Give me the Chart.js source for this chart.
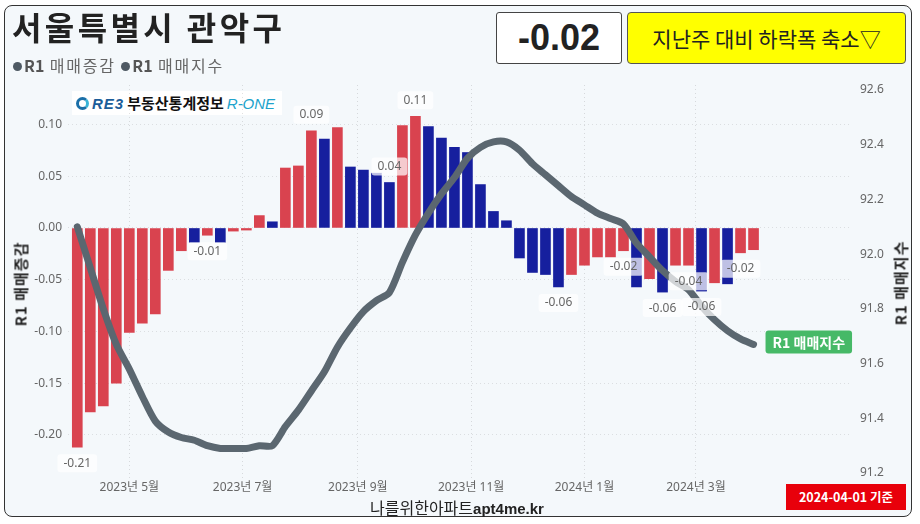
<!DOCTYPE html>
<html>
<head>
<meta charset="utf-8">
<script src="https://cdn.jsdelivr.net/npm/chart.js@4.4.1/dist/chart.umd.min.js"></script>
<style>
body{margin:0;width:920px;height:524px;background:#fff;position:relative;overflow:hidden;font-family:'Noto Sans','Noto Sans CJK KR',sans-serif;}
#frame{position:absolute;left:4px;top:5px;width:906px;height:510px;border:1.5px solid #333;border-radius:8px;background:#f4f8fb;}
#c{position:absolute;left:0;top:0;}
.abs{position:absolute;white-space:nowrap;}
#title{left:12px;top:3px;font-size:32px;font-weight:700;color:#222;font-family:'Noto Sans CJK KR',sans-serif;letter-spacing:3.4px;}
#legend{left:13px;top:53px;font-size:16px;color:#666;font-family:'Noto Sans CJK KR',sans-serif;letter-spacing:1.8px;}
#legend b{color:#555;letter-spacing:0;}
#legend .dot{display:inline-block;width:9px;height:9px;border-radius:50%;background:#4e5963;margin-right:2px;vertical-align:1px;}
#valbox{left:496px;top:12px;width:124px;height:50px;background:#fff;border:1px solid #444;border-radius:3px;text-align:center;line-height:50px;font-size:36px;font-weight:700;color:#222;font-family:'Liberation Sans',Arial,sans-serif;}
#yellow{left:627px;top:12px;width:277px;height:50px;background:#ffff00;border:1px solid #555;border-radius:4px;text-align:center;line-height:50px;font-size:21px;color:#222;font-family:'Noto Sans CJK KR',sans-serif;}
#logo{left:72px;top:91px;width:210px;height:24px;background:#fff;font-size:15px;line-height:24px;font-family:'Noto Sans CJK KR',sans-serif;}
#logo .ic{display:inline-block;width:13px;height:13px;border-radius:50%;border:3px solid #1b6fa8;border-right-color:#38b4d8;box-sizing:border-box;margin:0 3px 0 4px;vertical-align:-1px;}
#logo .re{color:#1b5d99;font-style:italic;font-weight:700;font-family:'Liberation Sans',sans-serif;letter-spacing:1px;}
#logo .ko{color:#111;font-weight:700;margin:0 3px;}
#logo .one{color:#21a3cc;font-style:italic;font-family:'Liberation Sans',sans-serif;}
.ytitle{font-size:15px;font-weight:700;color:#222;font-family:'Noto Sans CJK KR',sans-serif;letter-spacing:1px;transform:translate(-50%,-50%) rotate(-90deg);}
#footer{left:370px;top:495px;font-size:16px;color:#222;font-family:'Noto Sans CJK KR',sans-serif;}
#footer b{font-family:'Liberation Sans Narrow','Liberation Sans',sans-serif;font-size:15px;}
#badge{left:786px;top:484px;width:120px;height:26px;background:#e8000b;color:#fff;font-size:12.5px;font-weight:700;text-align:center;line-height:26px;font-family:'Noto Sans CJK KR',sans-serif;}
</style>
</head>
<body>
<div id="frame"></div>
<div id="logo" class="abs"><span class="ic"></span><span class="re">RE3</span><span class="ko">부동산통계정보</span><span class="one">R-ONE</span></div>
<canvas id="c" width="920" height="524"></canvas>
<div id="title" class="abs">서울특별시 관악구</div>
<div id="legend" class="abs"><span class="dot"></span><b>R1</b> 매매증감 <span class="dot"></span><b>R1</b> 매매지수</div>
<div id="valbox" class="abs"></div>
<div id="yellow" class="abs">지난주 대비 하락폭 축소▽</div>
<div class="abs ytitle" style="left:20px;top:284px;">R1 매매증감</div>
<div class="abs ytitle" style="left:900px;top:283px;">R1 매매지수</div>
<div id="footer" class="abs">나를위한아파트<b>apt4me.kr</b></div>
<div id="badge" class="abs">2024-04-01 기준</div>
<script>
const weeks = [
  '2023-04-03','2023-04-10','2023-04-17','2023-04-24','2023-05-01','2023-05-08','2023-05-15','2023-05-22','2023-05-29',
  '2023-06-05','2023-06-12','2023-06-19','2023-06-26','2023-07-03','2023-07-10','2023-07-17','2023-07-24','2023-07-31',
  '2023-08-07','2023-08-14','2023-08-21','2023-08-28','2023-09-04','2023-09-11','2023-09-18','2023-09-25',
  '2023-10-02','2023-10-09','2023-10-16','2023-10-23','2023-10-30','2023-11-06','2023-11-13','2023-11-20','2023-11-27',
  '2023-12-04','2023-12-11','2023-12-18','2023-12-25','2024-01-01','2024-01-08','2024-01-15','2024-01-22','2024-01-29',
  '2024-02-05','2024-02-12','2024-02-19','2024-02-26','2024-03-04','2024-03-11','2024-03-18','2024-03-25','2024-04-01'
];
// R1 매매증감 (weekly change)
const changeValues = [
  -0.212,-0.178,-0.172,-0.150,-0.101,-0.092,-0.083,-0.041,-0.022,
  -0.014,-0.007,-0.014,-0.003,-0.002,0.012,0.006,0.058,0.060,
  0.094,0.086,0.097,0.059,0.056,0.053,0.044,0.099,
  0.108,0.098,0.087,0.078,0.073,0.042,0.016,0.007,-0.029,
  -0.043,-0.045,-0.057,-0.045,-0.036,-0.028,-0.028,-0.022,-0.057,
  -0.049,-0.062,-0.036,-0.036,-0.061,-0.053,-0.054,-0.024,-0.021
];
// R = red, B = blue
const barGroup = [
  'R','R','R','R','R','R','R','R','R',
  'B','R','B','R','R','R','B','R','R',
  'R','B','R','B','B','B','B','R',
  'R','B','B','B','B','B','B','B','B',
  'B','B','B','R','R','R','R','R','B',
  'R','B','R','R','B','R','B','R','R'
];
// R1 매매지수
const indexValues = [
  92.10,91.95,91.80,91.67,91.58,91.48,91.39,91.35,91.33,
  91.32,91.30,91.29,91.29,91.29,91.30,91.30,91.37,91.43,
  91.50,91.57,91.66,91.73,91.79,91.83,91.86,91.97,
  92.07,92.15,92.22,92.28,92.35,92.39,92.41,92.41,92.38,
  92.33,92.29,92.25,92.21,92.18,92.15,92.13,92.11,92.04,
  91.99,91.94,91.90,91.87,91.81,91.76,91.72,91.69,91.67
];
const labeledWeeks = [0,10,18,24,26,37,42,45,47,48,51];
const monthTicks = ['2023-05-01','2023-07-01','2023-09-01','2023-11-01','2024-01-01','2024-03-01'];

const dayOf = d => (Date.parse(d) - Date.parse(weeks[0])) / 864e5;
const colorOf = { R: '#d9434f', B: '#161f9e' };
const tickFont = { family: "'Noto Sans','Noto Sans CJK KR',sans-serif", size: 12 };

document.getElementById('valbox').textContent = changeValues[changeValues.length - 1].toFixed(2);

const labelPlugin = {
  id: 'labels',
  afterDatasetsDraw(chart) {
    const ctx = chart.ctx;
    const bars = chart.getDatasetMeta(0).data;
    ctx.save();
    ctx.font = "12px 'Noto Sans',sans-serif";
    ctx.textAlign = 'center';
    ctx.textBaseline = 'middle';
    labeledWeeks.forEach(i => {
      const b = bars[i], v = changeValues[i];
      const txt = v.toFixed(2);
      const y = v < 0 ? b.y + 16 : b.y - 16;
      const w = ctx.measureText(txt).width + 12;
      ctx.fillStyle = 'rgba(255,255,255,0.72)';
      ctx.beginPath();
      ctx.roundRect(b.x - w / 2, y - 9, w, 18, 3);
      ctx.fill();
      ctx.fillStyle = '#666';
      ctx.fillText(txt, b.x, y);
    });
    // end label of the index line
    const pts = chart.getDatasetMeta(1).data;
    const p = pts[pts.length - 1];
    const tag = chart.data.datasets[1].label;
    ctx.font = "bold 14px 'Noto Sans CJK KR',sans-serif";
    const tw = ctx.measureText(tag).width + 14;
    ctx.fillStyle = '#46b967';
    ctx.beginPath();
    ctx.roundRect(p.x + 12, p.y - 14, tw, 23, 3);
    ctx.fill();
    ctx.fillStyle = '#fff';
    ctx.textAlign = 'left';
    ctx.fillText(tag, p.x + 19, p.y - 2);
    ctx.restore();
  }
};

new Chart(document.getElementById('c'), {
  type: 'bar',
  data: {
    datasets: [{
      type: 'bar',
      label: 'R1 매매증감',
      data: weeks.map((w, i) => ({ x: dayOf(w), y: changeValues[i] })),
      backgroundColor: barGroup.map(g => colorOf[g]),
      barThickness: 10,
      yAxisID: 'y',
      order: 1
    }, {
      type: 'line',
      label: 'R1 매매지수',
      data: weeks.map((w, i) => ({ x: dayOf(w), y: indexValues[i] })),
      borderColor: '#5b6770',
      borderWidth: 7,
      borderCapStyle: 'round',
      borderJoinStyle: 'round',
      pointRadius: 0,
      tension: 0.25,
      yAxisID: 'y1',
      order: 0
    }]
  },
  options: {
    responsive: false,
    animation: false,
    layout: { padding: { left: 18, right: 20, top: 85, bottom: 22 } },
    plugins: { legend: { display: false }, tooltip: { enabled: false } },
    scales: {
      x: {
        type: 'linear',
        offset: false,
        min: -5,
        max: 417,
        afterBuildTicks: s => { s.ticks = monthTicks.map(m => ({ value: dayOf(m) })); },
        afterFit: s => { s.height = 24; },
        ticks: {
          autoSkip: false, maxRotation: 0, padding: 2, color: '#666', font: tickFont,
          callback: v => {
            const d = new Date(Date.parse(weeks[0]) + v * 864e5);
            return d.getUTCFullYear() + '년 ' + (d.getUTCMonth() + 1) + '월';
          }
        },
        grid: { color: 'rgba(0,0,0,0.12)', drawTicks: false, offset: false },
        border: { display: false, dash: [1, 3] }
      },
      y: {
        position: 'left',
        min: -0.2418,
        max: 0.1383,
        afterFit: s => { s.width = 50; },
        ticks: { stepSize: 0.05, includeBounds: false, padding: 6, color: '#666', font: tickFont, callback: v => v.toFixed(2) },
        grid: { color: 'rgba(0,0,0,0.1)', drawTicks: false },
        border: { display: false, dash: [1, 3] }
      },
      y1: {
        position: 'right',
        min: 91.182,
        max: 92.618,
        afterFit: s => { s.width = 48; },
        ticks: { stepSize: 0.2, includeBounds: false, padding: 8, color: '#666', font: tickFont, callback: v => v.toFixed(1) },
        grid: { display: false, drawTicks: false },
        border: { display: false }
      }
    }
  },
  plugins: [labelPlugin]
});
</script>
</body>
</html>
